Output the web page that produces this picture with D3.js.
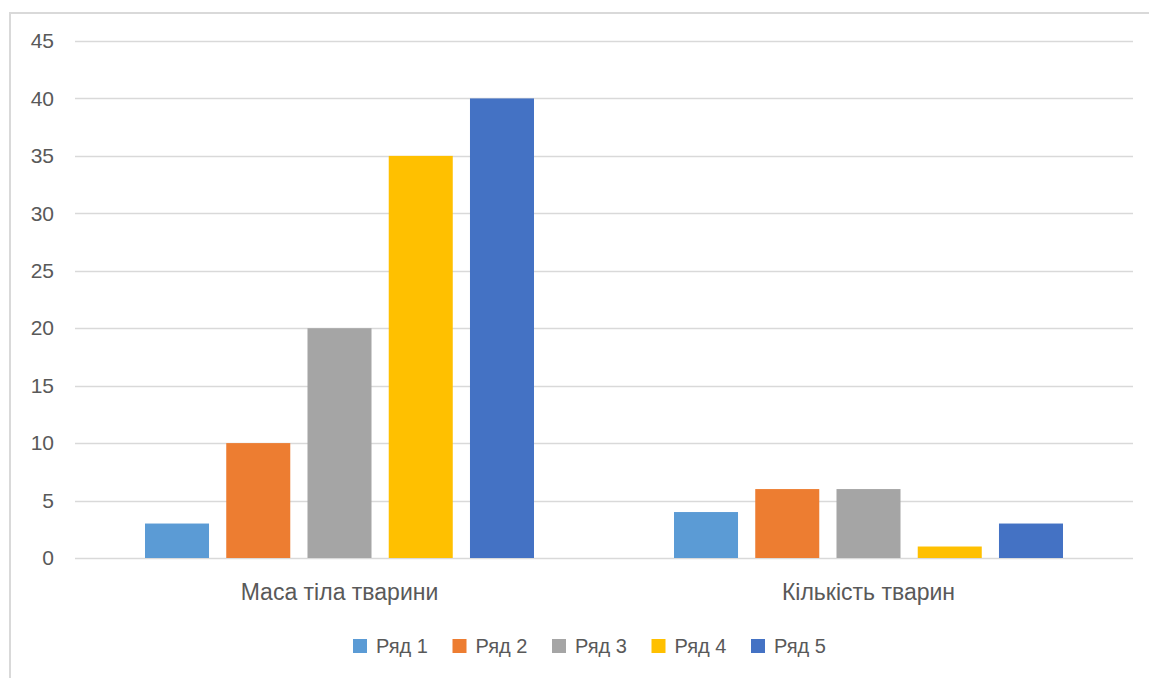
<!DOCTYPE html>
<html><head><meta charset="utf-8">
<script src="https://cdn.jsdelivr.net/npm/d3@7"></script>
<style>html,body{margin:0;padding:0;background:#fff;}svg{display:block;}</style>
</head><body>
<svg id="c" width="1149" height="678"></svg>
<script>
const categories = ["Маса тіла тварини", "Кількість тварин"];
const seriesNames = ["Ряд 1", "Ряд 2", "Ряд 3", "Ряд 4", "Ряд 5"];
const series1 = [3, 4];
const series2 = [10, 6];
const series3 = [20, 6];
const series4 = [35, 1];
const series5 = [40, 3];
const yTicks = [0, 5, 10, 15, 20, 25, 30, 35, 40, 45];
const colors = ["#5B9BD5", "#ED7D31", "#A5A5A5", "#FFC000", "#4472C4"];

(function () {
const seriesValues = [series1, series2, series3, series4, series5];
const svg = d3.select("#c");
const font = "'Liberation Sans', Arial, sans-serif";
const textColor = "#595959";

// outer border
svg.append("rect").attr("x", 10).attr("y", 13).attr("width", 1160).attr("height", 700)
  .attr("fill", "none").attr("stroke", "#d9d9d9").attr("stroke-width", 2);

const plotLeft = 75, plotRight = 1133, plotTop = 41, plotBottom = 558;
const y = d3.scaleLinear().domain([0, 45]).range([plotBottom, plotTop]);
const x0 = d3.scaleBand().domain(categories).range([plotLeft, plotRight]).padding(0);
const inner = 70;
const x1 = d3.scaleBand().domain(seriesNames).range([inner, x0.bandwidth() - inner]).paddingInner(0.212).paddingOuter(0);

// gridlines
svg.append("g").selectAll("line").data(yTicks).join("line")
  .attr("x1", plotLeft).attr("x2", plotRight)
  .attr("y1", d => Math.round(y(d)) + 0.5).attr("y2", d => Math.round(y(d)) + 0.5)
  .attr("stroke", "#d9d9d9").attr("stroke-width", 1.3);

// y axis labels
const yAxis = d3.axisLeft(y).tickValues(yTicks).tickSize(0).tickPadding(0);
const gy = svg.append("g").attr("transform", `translate(54,0)`).call(yAxis);
gy.select(".domain").remove();
gy.selectAll("text").attr("font-family", font).attr("font-size", 21).attr("fill", textColor);

// bars
const groups = svg.append("g").selectAll("g").data(categories).join("g")
  .attr("transform", d => `translate(${x0(d)},0)`);
groups.selectAll("rect").data((d, i) => seriesNames.map((s, j) => ({s, j, v: seriesValues[j][i]})))
  .join("rect")
  .attr("x", d => x1(d.s)).attr("width", x1.bandwidth())
  .attr("y", d => y(d.v)).attr("height", d => y(0) - y(d.v))
  .attr("fill", d => colors[d.j]);

// x axis labels
const xAxis = d3.axisBottom(x0).tickSize(0).tickPadding(0);
const gx = svg.append("g").attr("transform", `translate(0,${plotBottom})`).call(xAxis);
gx.select(".domain").remove();
gx.selectAll("text").attr("font-family", font).attr("font-size", 23).attr("fill", textColor)
  .attr("y", 42).attr("dy", 0);

// legend
const legend = svg.append("g").attr("transform", "translate(353,639)");
const li = legend.selectAll("g").data(seriesNames).join("g")
  .attr("transform", (d, i) => `translate(${i * 99.5},0)`);
li.append("rect").attr("width", 14).attr("height", 14).attr("fill", (d, i) => colors[i]);
li.append("text").attr("x", 23).attr("y", 14).attr("dy", 0)
  .attr("font-family", font).attr("font-size", 20).attr("fill", textColor).text(d => d);
})();
</script>
</body></html>
